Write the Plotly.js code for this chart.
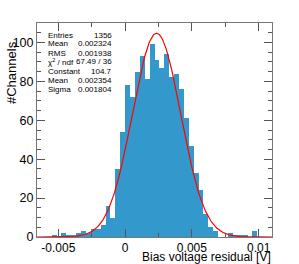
<!DOCTYPE html>
<html>
<head>
<meta charset="utf-8">
<script src="https://cdn.plot.ly/plotly-3.0.1.min.js"></script>
<style>html,body{margin:0;padding:0;background:#fff;}#chart{width:299px;height:264px;}</style>
</head>
<body>
<div id="chart"></div>
<script>
// Histogram definition (48 bins over the axis range)
const histMin = -0.0066;
const histMax = 0.011;
const nBins = 48;
const counts = [0,0,0,1,0,2,1,1,2,3,2,4,4,6,16,10,35,54,
                78,72,85,93,81,99,91,87,94,82,84,76,61,
                47,33,24,12,5,3,0,0,2,1,1,1,0,3,0,0,0];
// Gaussian fit parameters
const fitConstant = 104.7;
const fitMean = 0.002354;
const fitSigma = 0.001804;
// Stats box
const statLabels = ["Entries","Mean","RMS","χ<sup>2</sup> / ndf","Constant","Mean","Sigma"];
const statValues = ["1356","0.002324","0.001938","67.49 / 36","104.7","0.002354","0.001804"];
// Tick labels
const xTickVals = [-0.005, 0, 0.005, 0.01];
const xTickText = ["-0.005", "0", "0.005", "0.01"];
const xTitle = "Bias voltage residual [V]";
const yTitle = "#Channels";

const binW = (histMax - histMin) / nBins;
const centers = counts.map((_, i) => histMin + (i + 0.5) * binW);

const fx = [], fy = [];
const nF = 400;
for (let i = 0; i <= nF; i++) {
  const x = histMin + (histMax - histMin) * i / nF;
  fx.push(x);
  fy.push(fitConstant * Math.exp(-0.5 * Math.pow((x - fitMean) / fitSigma, 2)));
}

const W = 299, H = 264;
const mL = 37, mR = 27, mT = 23, mB = 27;
const pw = W - mL - mR, ph = H - mT - mB;
const px = x => (x - mL) / pw;
const py = y => (H - mB - y) / ph;
const FONT = "Liberation Sans, Arial, Helvetica, sans-serif";

const annotations = [];
const rowY = [35, 44, 53, 62, 71.5, 80.5, 89.5];
statLabels.forEach((t, i) => {
  annotations.push({xref:'paper', yref:'paper', x: px(46), y: py(rowY[i]), xanchor:'left', yanchor:'middle',
    text: t, showarrow:false, font:{family:FONT, size:8, color:'#000'}});
  annotations.push({xref:'paper', yref:'paper', x: px(114), y: py(rowY[i]), xanchor:'right', yanchor:'middle',
    text: statValues[i], showarrow:false, font:{family:FONT, size:8, color:'#000'}});
});
annotations.push({xref:'paper', yref:'paper', x: px(272), y: py(257.3), xanchor:'right', yanchor:'middle',
  text: xTitle, showarrow:false, borderpad:0, font:{family:FONT, size:12, color:'#000'}});
annotations.push({xref:'paper', yref:'paper', x: px(11), y: py(73), xanchor:'center', yanchor:'middle', textangle:-90,
  text: yTitle, showarrow:false, borderpad:0, font:{family:FONT, size:13, color:'#000'}});

const data = [
  {type:'bar', x: centers, y: counts, width: binW, marker:{color:'#3399cc', line:{width:0}}, hoverinfo:'skip'},
  {type:'scatter', mode:'lines', x: fx, y: fy, line:{color:'#ff0000', width:1.2}, hoverinfo:'skip'}
];

const layout = {
  width: W, height: H,
  margin: {l:mL, r:mR, t:mT, b:mB, pad:0},
  paper_bgcolor:'#fff', plot_bgcolor:'#fff',
  showlegend:false, bargap:0,
  font:{family:FONT, size:12, color:'#000'},
  xaxis: {range:[histMin, histMax], tickmode:'array', tickvals:xTickVals, ticktext:xTickText,
    ticks:'inside', ticklen:8, tickcolor:'#555', showline:true, linecolor:'#777', linewidth:1, mirror:'ticks',
    showgrid:false, zeroline:false, tickfont:{size:12},
    minor:{tick0:0, dtick:0.0025, ticks:'inside', ticklen:4, tickcolor:'#555', showgrid:false}},
  yaxis: {range:[0, 110], tickmode:'linear', tick0:0, dtick:20,
    ticks:'inside', ticklen:8, tickcolor:'#555', showline:true, linecolor:'#777', linewidth:1, mirror:'ticks',
    showgrid:false, zeroline:false, tickfont:{size:12.5},
    minor:{tick0:0, dtick:5, ticks:'inside', ticklen:4, tickcolor:'#555', showgrid:false}},
  annotations: annotations
};

Plotly.newPlot('chart', data, layout, {staticPlot:true, displayModeBar:false});
</script>
</body>
</html>
